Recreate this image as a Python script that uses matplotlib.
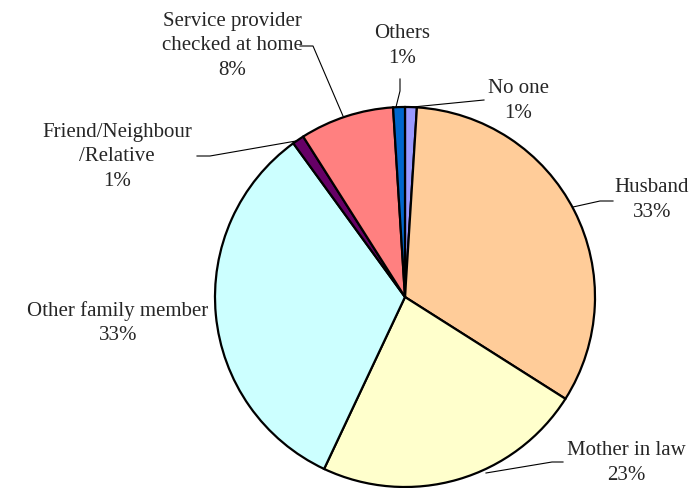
import matplotlib.pyplot as plt

labels = ["No one", "Husband", "Mother in law", "Other family member",
          "Friend/Neighbour\n/Relative", "Service provider\nchecked at home", "Others"]
shares = [1, 33, 23, 33, 1, 8, 1]
colors = ["#9999FF", "#FFCC99", "#FFFFCC", "#CCFFFF", "#660066", "#FF8080", "#0066CC"]

plt.rcParams['font.family'] = ['Liberation Serif', 'DejaVu Serif']

W, H = 692, 489
fig = plt.figure(figsize=(W / 100, H / 100), dpi=100)
ax = fig.add_axes([0, 0, 1, 1])

cx, cy, r = 405, H - 298, 190
ax.pie(shares, colors=colors, startangle=90, counterclock=False,
       center=(cx, cy), radius=r, frame=True,
       wedgeprops=dict(edgecolor='black', linewidth=1.6))
ax.set_xlim(0, W)
ax.set_ylim(0, H)
ax.axis('off')

# label text centre and leader line (in pixel coords, y from top)
placements = [
    ((518, 101), [(484, 101), (413, 108)]),
    ((652, 200), [(613, 202), (600, 202), (573, 208)]),
    ((626, 463), [(563, 463), (552, 463), (486, 474)]),
    ((118, 323), None),
    ((117, 157), [(197, 157), (210, 157), (296, 142)]),
    ((232, 46), [(300, 47), (313, 47), (343, 117)]),
    ((402, 46), [(400, 80), (400, 92), (396, 108)]),
]

for lab, val, (pos, line) in zip(labels, shares, placements):
    ax.text(pos[0], H - pos[1], f"{lab}\n{val}%", ha='center', va='center',
            fontsize=15, color='#262626', linespacing=1.38)
    if line:
        xs = [p[0] for p in line]
        ys = [H - p[1] for p in line]
        ax.plot(xs, ys, color='black', lw=0.8)

fig.savefig("out.png", dpi=100)
